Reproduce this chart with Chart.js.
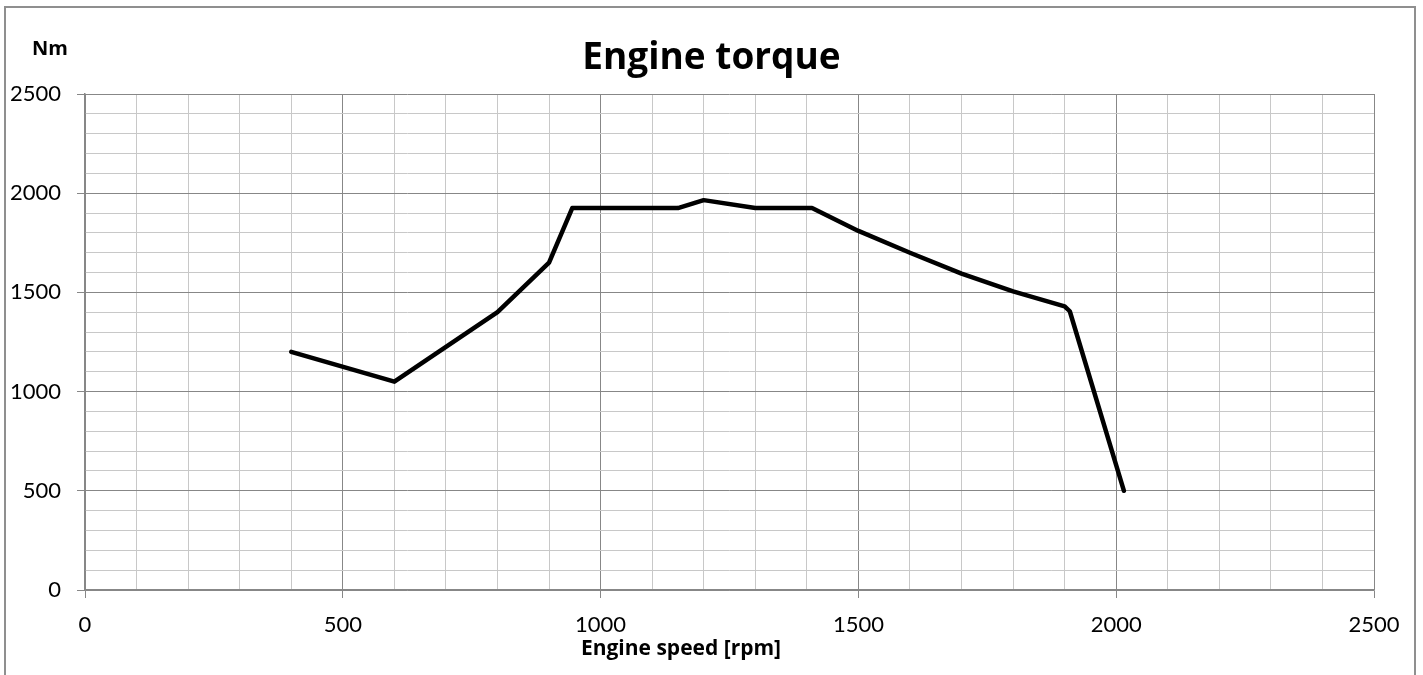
<!DOCTYPE html>
<html>
<head>
<meta charset="utf-8">
<title>Engine torque</title>
<script src="https://cdn.jsdelivr.net/npm/chart.js@4.4.1/dist/chart.umd.min.js"></script>
<style>
  html, body { margin: 0; padding: 0; background: #fff; overflow: hidden; }
  #wrap { position: relative; width: 1423px; height: 675px; }
</style>
</head>
<body>
<div id="wrap"><canvas id="torqueChart"></canvas></div>
<script>
// Engine speed [rpm] and torque [Nm]
const engineSpeed = [400, 600, 800, 900, 945, 1150, 1200, 1300, 1410, 1500, 1600, 1700, 1800, 1900, 1910, 2015];
const engineTorque = [1200, 1050, 1400, 1650, 1925, 1925, 1965, 1925, 1925, 1810, 1700, 1595, 1505, 1430, 1405, 500];

const xMax = 2500;
const yMax = 2500;
const minorStep = 100;
const majorStep = 500;

const chartTitle = 'Engine torque';
const xTitle = 'Engine speed [rpm]';
const yUnit = 'Nm';

const majorColor = '#878787';
const minorColor = '#c8c8c8';
const fontFamily = "Lato, 'Open Sans', sans-serif";
const boldFamily = "'Open Sans', Lato, sans-serif";

Chart.defaults.font.family = fontFamily;
Chart.defaults.color = '#000';

// frame + free text that excel puts outside the axes
const staticLabels = {
    id: 'staticLabels',
    beforeDraw(chart) {
        const c = chart.ctx;
        c.save();
        c.strokeStyle = '#8f8f8f';
        c.lineWidth = 2;
        c.strokeRect(5, 7, 1410, 720);
        c.restore();
    },
    afterDraw(chart) {
        const c = chart.ctx;
        c.save();
        c.fillStyle = '#000';
        c.textBaseline = 'alphabetic';
        c.textAlign = 'center';
        c.font = "bold 37px " + boldFamily;
        c.fillText(chartTitle, chart.width / 2, 69);
        c.font = "bold 20px " + boldFamily;
        c.fillText(yUnit, 50, 55);
        c.font = "bold 21px " + boldFamily;
        c.fillText(xTitle, 681, 655);
        c.restore();
    }
};

const gridColor = (ctx) => ctx.tick && ctx.tick.value % majorStep === 0 ? majorColor : minorColor;
const tickMarkColor = (ctx) => ctx.tick && ctx.tick.value % majorStep === 0 ? majorColor : 'rgba(0,0,0,0)';
const majorLabel = (v) => v % majorStep === 0 ? v : '';

new Chart(document.getElementById('torqueChart').getContext('2d'), {
    type: 'line',
    data: {
        datasets: [{
            data: engineSpeed.map((x, i) => ({ x: x, y: engineTorque[i] })),
            borderColor: '#000',
            borderWidth: 4.5,
            borderJoinStyle: 'round',
            borderCapStyle: 'round',
            pointRadius: 0,
            tension: 0,
            fill: false
        }]
    },
    options: {
        responsive: true,
        maintainAspectRatio: false,
        animation: false,
        layout: {
            padding: { left: 0, top: 94, right: 49, bottom: 0 }
        },
        plugins: {
            legend: { display: false },
            title: { display: false },
            tooltip: { enabled: false }
        },
        scales: {
            x: {
                type: 'linear',
                min: 0,
                max: xMax,
                afterFit: (s) => { s.height = 85; },
                ticks: {
                    stepSize: minorStep,
                    autoSkip: false,
                    maxRotation: 0,
                    padding: 14,
                    font: { size: 22 },
                    callback: majorLabel
                },
                grid: {
                    color: gridColor,
                    tickColor: tickMarkColor,
                    tickLength: 8,
                    lineWidth: 1
                },
                border: { color: majorColor, width: 1.5 }
            },
            y: {
                min: 0,
                max: yMax,
                afterFit: (s) => { s.width = 85; },
                ticks: {
                    stepSize: minorStep,
                    autoSkip: false,
                    padding: 16,
                    font: { size: 22 },
                    callback: majorLabel
                },
                grid: {
                    color: gridColor,
                    tickColor: tickMarkColor,
                    tickLength: 8,
                    lineWidth: 1
                },
                border: { color: majorColor, width: 1.5 }
            }
        }
    },
    plugins: [staticLabels]
});
</script>
</body>
</html>
